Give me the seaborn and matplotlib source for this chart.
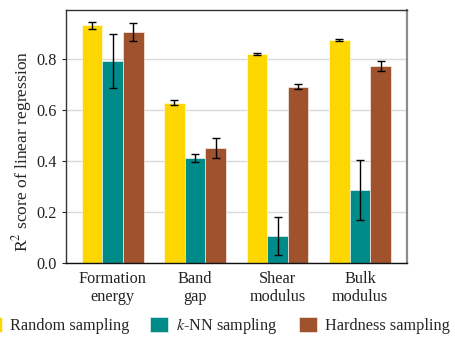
import pandas as pd
import numpy as np
import matplotlib
matplotlib.use('Agg')
import matplotlib.pyplot as plt
import seaborn as sns

# ========== data ==========
properties = ['Formation\nenergy', 'Band\ngap', 'Shear\nmodulus', 'Bulk\nmodulus']
methods = ['Random sampling', r'$k$-NN sampling', 'Hardness sampling']
random_mean = [0.930, 0.627, 0.818, 0.873]
random_err = [0.015, 0.010, 0.005, 0.005]
knn_mean = [0.790, 0.410, 0.105, 0.285]
knn_err = [0.105, 0.015, 0.075, 0.118]
hard_mean = [0.905, 0.450, 0.690, 0.770]
hard_err = [0.035, 0.040, 0.010, 0.020]
colors = ['#FFD700', '#008B8B', '#A0522D']

means = [random_mean, knn_mean, hard_mean]
errs = [random_err, knn_err, hard_err]
df = pd.DataFrame({
    'property': properties * 3,
    'method': [m for m in methods for _ in properties],
    'r2': np.concatenate(means),
    'err': np.concatenate(errs),
})

# ========== plot ==========
sns.set_style('white')
plt.rcParams['font.family'] = ['Liberation Serif', 'DejaVu Serif']
plt.rcParams['mathtext.fontset'] = 'stix'

fig = plt.figure(figsize=(4.56, 3.37), dpi=100)
ax = fig.add_axes([0.1447, 0.2196, 0.7478, 0.7504])
sns.barplot(data=df, x='property', y='r2', hue='method', palette=colors,
            width=0.75, saturation=1, errorbar=None, legend=True, ax=ax,
            edgecolor='white', linewidth=0.4, zorder=2)

# error bars on bar centres (patches ordered hue by hue)
bars = [p for p in ax.patches if p.get_height() > 0][:len(df)]
xs = [b.get_x() + b.get_width() / 2 for b in bars]
ax.errorbar(xs, df['r2'], yerr=df['err'], fmt='none', ecolor='black',
            elinewidth=1.0, capsize=3, capthick=1.0, zorder=3)

ax.set_xlim(-0.565, 3.57)
ax.set_ylim(0, 0.99)
ax.set_yticks([0.0, 0.2, 0.4, 0.6, 0.8])
ax.set_yticklabels(['0.0', '0.2', '0.4', '0.6', '0.8'])
ax.yaxis.grid(True, color='#d9d9d9', linewidth=1.0, zorder=0)
ax.set_axisbelow(True)
ax.set_xlabel('')
ax.set_ylabel(r'R$^2$ score of linear regression', fontsize=12.6)
ax.yaxis.set_label_coords(-0.095, 0.44)
ax.tick_params(axis='both', labelsize=11.7, colors='#222222')
ax.tick_params(axis='y', length=3, width=0.8, left=True)
ax.tick_params(axis='x', length=0, pad=6)
for lab in ax.get_xticklabels():
    lab.set_linespacing(1.15)

for side in ['top', 'left']:
    ax.spines[side].set_color('#333333')
    ax.spines[side].set_linewidth(1.0)
ax.spines['bottom'].set_color('#111111')
ax.spines['bottom'].set_linewidth(1.0)
ax.spines['right'].set_color('#8c8c8c')
ax.spines['right'].set_linewidth(1.6)

handles, labels = ax.get_legend_handles_labels()
ax.get_legend().remove()
fig.legend(handles, labels, loc='center', bbox_to_anchor=(0.475, 0.033),
           ncol=3, frameon=False, fontsize=11.7, handlelength=1.1,
           handleheight=1.0, handletextpad=0.5, columnspacing=1.3,
           borderpad=0, borderaxespad=0)

plt.savefig('out.png', dpi=100)
plt.close()
